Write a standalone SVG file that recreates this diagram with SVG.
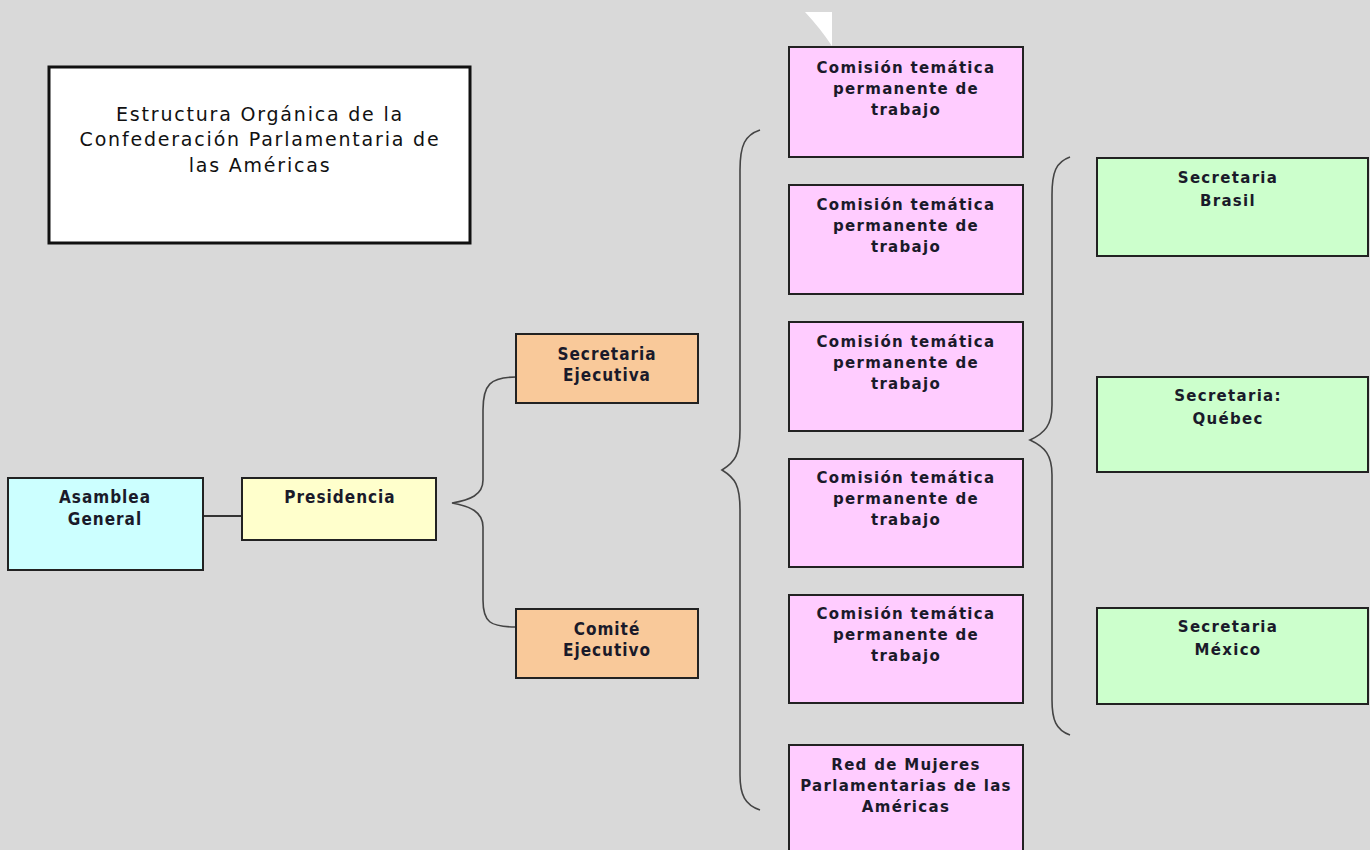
<svg xmlns="http://www.w3.org/2000/svg" width="1370" height="850" viewBox="0 0 1370 850">
<style>
.box{stroke:#222;stroke-width:2}
.t{font-family:"DejaVu Sans",Verdana,sans-serif;font-weight:bold;font-size:15px;letter-spacing:1.3px;fill:#1a1a2a;text-anchor:middle}
.c{font-family:"DejaVu Sans Condensed","DejaVu Sans",sans-serif;font-stretch:condensed;font-weight:bold;font-size:17px;letter-spacing:1px;fill:#1a1a2a;text-anchor:middle}
.title{font-family:"DejaVu Sans",Verdana,sans-serif;font-size:19px;letter-spacing:1.8px;fill:#111;text-anchor:middle}
.br{fill:none;stroke:#444;stroke-width:1.6}
.pink{fill:#ffccff}.green{fill:#ccffcc}.orange{fill:#f9c99a}
</style>
<rect width="1370" height="850" fill="#d9d9d9"/>
<path d="M805 12 L832 12 L832 46 Q820 28 805 12 Z" fill="#ffffff"/>
<g id="titulo">
<rect x="49" y="67" width="421" height="176" fill="#ffffff" stroke="#111" stroke-width="3"/>
<text class="title" x="260" y="121">Estructura Orgánica de la</text>
<text class="title" x="260" y="146">Confederación Parlamentaria de</text>
<text class="title" x="260" y="172">las Américas</text>
</g>
<g id="connectors">
<line x1="203" y1="516" x2="242" y2="516" stroke="#333" stroke-width="2"/>
<path class="br" d="M516 377 C490 377 483 385 483 410 L483 480 C483 495 470 500 452 503 C470 506 483 512 483 527 L483 600 C483 622 490 627 516 627"/>
<path class="br" d="M760 130 C745 135 740 145 740 170 L740 430 C740 455 735 462 722 470 C735 478 740 485 740 510 L740 775 C740 795 745 805 760 810"/>
<path class="br" d="M1070 157 C1056 162 1052 172 1052 195 L1052 405 C1052 425 1045 433 1030 440 C1045 447 1052 455 1052 475 L1052 700 C1052 720 1056 730 1070 735"/>
</g>
<g id="asamblea">
<rect class="box" x="8" y="478" width="195" height="92" fill="#ccffff"/>
<text class="c" x="105" y="503">Asamblea</text>
<text class="c" x="105" y="525">General</text>
</g>
<g id="presidencia">
<rect class="box" x="242" y="478" width="194" height="62" fill="#ffffcc"/>
<text class="c" x="340" y="503">Presidencia</text>
</g>
<g id="secretaria-ejecutiva">
<rect class="box orange" x="516" y="334" width="182" height="69"/>
<text class="c" x="607" y="360">Secretaria</text>
<text class="c" x="607" y="381">Ejecutiva</text>
</g>
<g id="comite-ejecutivo">
<rect class="box orange" x="516" y="609" width="182" height="69"/>
<text class="c" x="607" y="635">Comité</text>
<text class="c" x="607" y="656">Ejecutivo</text>
</g>
<g id="comision1">
<rect class="box pink" x="789" y="47" width="234" height="110"/>
<text class="t" x="906" y="73">Comisión temática</text>
<text class="t" x="906" y="94">permanente de</text>
<text class="t" x="906" y="115">trabajo</text>
</g>
<g id="comision2">
<rect class="box pink" x="789" y="185" width="234" height="109"/>
<text class="t" x="906" y="210">Comisión temática</text>
<text class="t" x="906" y="231">permanente de</text>
<text class="t" x="906" y="252">trabajo</text>
</g>
<g id="comision3">
<rect class="box pink" x="789" y="322" width="234" height="109"/>
<text class="t" x="906" y="347">Comisión temática</text>
<text class="t" x="906" y="368">permanente de</text>
<text class="t" x="906" y="389">trabajo</text>
</g>
<g id="comision4">
<rect class="box pink" x="789" y="459" width="234" height="108"/>
<text class="t" x="906" y="483">Comisión temática</text>
<text class="t" x="906" y="504">permanente de</text>
<text class="t" x="906" y="525">trabajo</text>
</g>
<g id="comision5">
<rect class="box pink" x="789" y="595" width="234" height="108"/>
<text class="t" x="906" y="619">Comisión temática</text>
<text class="t" x="906" y="640">permanente de</text>
<text class="t" x="906" y="661">trabajo</text>
</g>
<g id="red-mujeres">
<rect class="box pink" x="789" y="745" width="234" height="115"/>
<text class="t" x="906" y="770">Red de Mujeres</text>
<text class="t" x="906" y="791">Parlamentarias de las</text>
<text class="t" x="906" y="812">Américas</text>
</g>
<g id="sec-brasil">
<rect class="box green" x="1097" y="158" width="271" height="98"/>
<text class="t" x="1228" y="183">Secretaria</text>
<text class="t" x="1228" y="206">Brasil</text>
</g>
<g id="sec-quebec">
<rect class="box green" x="1097" y="377" width="271" height="95"/>
<text class="t" x="1228" y="401">Secretaria:</text>
<text class="t" x="1228" y="424">Québec</text>
</g>
<g id="sec-mexico">
<rect class="box green" x="1097" y="608" width="271" height="96"/>
<text class="t" x="1228" y="632">Secretaria</text>
<text class="t" x="1228" y="655">México</text>
</g>
</svg>
